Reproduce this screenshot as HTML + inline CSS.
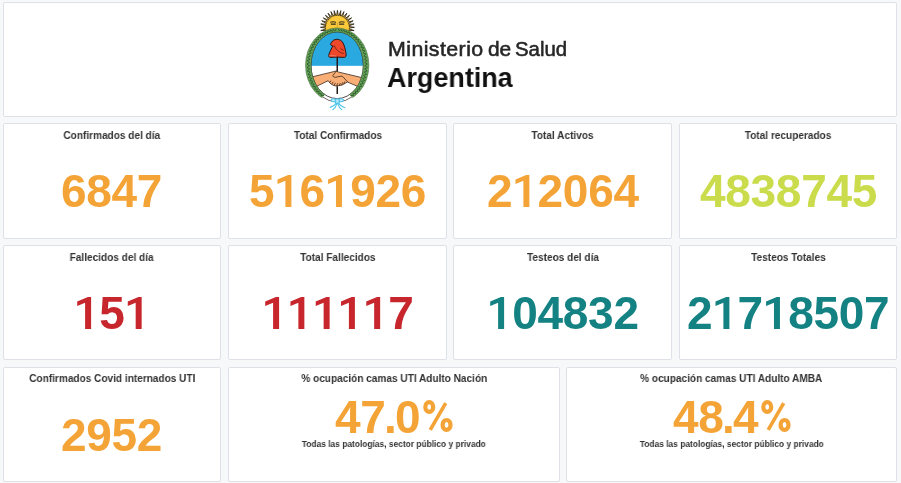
<!DOCTYPE html>
<html lang="es">
<head>
<meta charset="utf-8">
<title>Ministerio de Salud Argentina</title>
<style>
html,body{margin:0;padding:0;}
body{width:901px;height:483px;background:#f7f8fa;position:relative;overflow:hidden;font-family:"Liberation Sans",sans-serif;-webkit-font-smoothing:antialiased;}
.p{position:absolute;box-sizing:border-box;background:#fff;border:1px solid #dee1e7;border-radius:2px;overflow:hidden;}
.t{position:absolute;left:0;right:0;top:4px;text-align:center;font-weight:bold;font-size:11.2px;line-height:14px;color:#333;white-space:nowrap;}
.t span{will-change:transform;display:inline-block;transform-origin:50% 50%;transform:scaleX(0.9);}
.v{position:absolute;left:0;right:0;top:44px;text-align:center;font-weight:bold;font-size:46px;line-height:46px;white-space:nowrap;font-kerning:none;letter-spacing:-0.3px;}
.v span{will-change:transform;display:inline-block;transform-origin:50% 50%;}
.v.hi{top:26px;}
.v u{display:inline-block;width:25.28px;height:32.1px;background:currentColor;text-decoration:none;letter-spacing:0;clip-path:polygon(17.1px 0,13.9px 0,3.2px 4.5px,3.2px 9px,11.1px 5.9px,11.1px 100%,17.1px 100%);}
.v b{font-weight:bold;margin:0 -1.5px;}

.v .pc{display:inline-block;vertical-align:0.7px;margin-left:2.4px;margin-right:0;fill:none;stroke:currentColor;stroke-width:4.2px;overflow:visible;}
.s{position:absolute;left:0;right:0;top:70px;text-align:center;font-weight:bold;font-size:9.4px;line-height:12px;color:#333;white-space:nowrap;}
.s span{will-change:transform;display:inline-block;transform-origin:50% 50%;transform:scaleX(0.895);}
.r3 .t{top:3px;}
.r3 .v{top:43.5px;}
.r3 .v.hi{top:25.6px;}
.o{color:#f4a336;}
.g{color:#cadb4b;}
.r{color:#c8262d;}
.b{color:#148283;}
.m1{will-change:transform;position:absolute;top:33.9px;font-size:20.4px;line-height:24px;color:#262626;white-space:nowrap;transform-origin:0 50%;-webkit-text-stroke:0.55px #262626;}
#m2{will-change:transform;position:absolute;left:383.4px;top:59.45px;font-size:28px;line-height:32px;font-weight:bold;color:#111;white-space:nowrap;transform-origin:0 50%;transform:scaleX(0.962);}
</style>
</head>
<body>
<div class="p" id="hd" style="left:3px;top:2px;width:894px;height:115px;">
<svg id="logo" style="position:absolute;left:292px;top:1px" width="84" height="112" viewBox="296 4 84 112"><circle cx="337.45" cy="27.3" r="12.6" fill="#f7c63a"/><path d="M326.87 30.30L320.78 30.62L326.52 28.57ZM326.49 28.18L320.45 27.30L326.49 26.42ZM326.52 26.03L320.78 23.98L326.87 24.30ZM326.98 23.92L321.74 20.79L327.66 22.29ZM327.84 21.94L323.32 17.86L328.82 20.47ZM329.07 20.17L325.43 15.28L330.32 18.92ZM330.62 18.67L328.01 13.17L332.09 17.69ZM332.44 17.51L330.94 11.59L334.07 16.83ZM334.45 16.72L334.13 10.63L336.18 16.37ZM336.57 16.34L337.45 10.30L338.33 16.34ZM338.72 16.37L340.77 10.63L340.45 16.72ZM340.83 16.83L343.96 11.59L342.46 17.51ZM342.81 17.69L346.89 13.17L344.28 18.67ZM344.58 18.92L349.47 15.28L345.83 20.17ZM346.08 20.47L351.58 17.86L347.06 21.94ZM347.24 22.29L353.16 20.79L347.92 23.92ZM348.03 24.30L354.12 23.98L348.38 26.03ZM348.41 26.42L354.45 27.30L348.41 28.18ZM348.38 28.57L354.12 30.62L348.03 30.30Z" fill="#f1bd33" stroke="#2a2418" stroke-width="0.85" stroke-linejoin="miter"/><circle cx="337.45" cy="27.3" r="11.5" fill="#fbc93a"/><path d="M330.6 22.1Q333 21.2 335.7 22.2M339.2 22.2Q341.8 21.2 344.3 22.1" fill="none" stroke="#2f2a1c" stroke-width="1.0" stroke-linecap="round"/><path d="M331.2 24.1H335.4M339.5 24.1H343.7" fill="none" stroke="#2f2a1c" stroke-width="1.1" stroke-linecap="round"/><path d="M337.4 23.5V26.3M335.6 28.1Q337.4 28.9 339.2 28.1" fill="none" stroke="#9a7a22" stroke-width="0.5" stroke-linecap="round"/><clipPath id="sh"><ellipse cx="337.2" cy="65.2" rx="26.2" ry="33.4"/></clipPath><g clip-path="url(#sh)"><rect x="300" y="25" width="80" height="40.9" fill="#2aa9e0"/><rect x="300" y="65.9" width="80" height="40" fill="#ffffff"/><path d="M311.5 77L336.2 71.0L338.3 72.0L363.5 78L359 87L347.4 82Q342 86.3 336.2 86Q331 85.5 328.2 80.7L316 86.6Z" fill="#f8ae74" stroke="#33201a" stroke-width="0.75" stroke-linejoin="round"/></g><path d="M336.2 71.2L332.7 75.8Q333.4 77.4 335.2 77.3L339 76.6Q341.4 75.6 343 76.8L347.4 81.8M329.6 82.6L330.8 81M331.8 84L333 82.2M334.2 85.2L335.2 83.2M336.8 85.6L337.6 83.6M339.4 85.4L340.2 83.4M341.8 84.6L342.4 82.8M344 83.6L344.4 82" fill="none" stroke="#33201a" stroke-width="0.75" stroke-linecap="round" stroke-linejoin="round"/><path d="M337.25 57V71.4M337.25 86.2V94.1" stroke="#241a17" stroke-width="1.5" fill="none"/><path d="M336.8 39.3C334.5 39.3 332.6 40.6 331.6 42.2C330.6 43.4 330.3 44.6 331 45.2C331.6 45.8 332.4 45.8 332.7 46.1C332 47.4 331.4 48.6 330.8 50C329.8 52 328.9 54 328.7 55.6C328.6 56.6 329 57.2 330 57.3C332.5 57.6 335 57.2 337.3 57C339.8 57.2 342.4 57.6 344.6 57.3C345.6 57.1 346.1 56.4 346.1 55.2C346.1 53.4 345.8 51.8 345.4 50.2C345 48.4 344.6 46.6 344 45.2C343.4 43.6 342.7 42.3 341.8 41.3C340.6 40 338.8 39.3 336.8 39.3Z" fill="#ee482b" stroke="#2a1512" stroke-width="1" stroke-linejoin="round"/><path d="M334.5 46.3Q336 49.6 338.4 51.3Q340.6 52.9 343.5 53.6M340.7 48.5Q341.8 49.8 343.5 50.2M332.7 46.1Q333.6 46.2 334.5 46.3" fill="none" stroke="#5a1a14" stroke-width="0.7" stroke-linecap="round"/><path d="M329.6 55.7Q333 55.2 336 56" fill="none" stroke="#f59a86" stroke-width="0.6" stroke-linecap="round"/><ellipse cx="337.2" cy="65.2" rx="26.2" ry="33.4" fill="none" stroke="#2a1a18" stroke-width="0.8"/><path d="M321.25 96.24A30.10 36.60 0 0 0 353.15 96.24" fill="none" stroke="#3a2a22" stroke-width="0.7"/><clipPath id="wr"><path d="M290 0H390V100.52L355.59 100.52L348.64 94.07L337.2 65.2L325.76 94.07L318.81 100.52L290 100.52Z"/></clipPath><g clip-path="url(#wr)"><path d="M305.50 65.2A31.7 37.2 0 1 1 368.90 65.2A31.7 37.2 0 1 1 305.50 65.2ZM311.00 65.2A26.2 33.4 0 1 0 363.40 65.2A26.2 33.4 0 1 0 311.00 65.2Z" fill="#66a558" fill-rule="evenodd" stroke="#3c5f36" stroke-width="0.5"/><path d="M323.47 97.46L323.50 95.07L320.99 95.77L321.30 93.34L318.66 93.81L319.24 91.35L316.49 91.60L317.34 89.13L314.51 89.15L315.62 86.70L312.73 86.48L314.09 84.08L311.16 83.63L312.76 81.29L309.83 80.62L311.65 78.36L308.74 77.47L310.77 75.31L307.90 74.21L310.12 72.17L307.32 70.86L309.72 68.97L307.01 67.47L309.55 65.74L306.96 64.06L309.64 62.50L307.19 60.66L309.96 59.29L307.68 57.30L310.53 56.13L308.43 54.01L311.33 53.04L309.44 50.82L312.37 50.07L310.69 47.76L313.62 47.23L312.18 44.85L315.09 44.55L313.89 42.12L316.75 42.06L315.81 39.60L318.59 39.76L317.92 37.30L320.60 37.70L320.20 35.25L322.75 35.88L322.63 33.47L325.04 34.32L325.19 31.97L327.43 33.03L327.85 30.76L329.90 32.03L330.60 29.86L332.45 31.32L333.41 29.28L335.03 30.92L336.25 29.01M350.93 97.46L350.90 95.07L353.41 95.77L353.10 93.34L355.74 93.81L355.16 91.35L357.91 91.60L357.06 89.13L359.89 89.15L358.78 86.70L361.67 86.48L360.31 84.08L363.24 83.63L361.64 81.29L364.57 80.62L362.75 78.36L365.66 77.47L363.63 75.31L366.50 74.21L364.28 72.17L367.08 70.86L364.68 68.97L367.39 67.47L364.85 65.74L367.44 64.06L364.76 62.50L367.21 60.66L364.44 59.29L366.72 57.30L363.87 56.13L365.97 54.01L363.07 53.04L364.96 50.82L362.03 50.07L363.71 47.76L360.78 47.23L362.22 44.85L359.31 44.55L360.51 42.12L357.65 42.06L358.59 39.60L355.81 39.76L356.48 37.30L353.80 37.70L354.20 35.25L351.65 35.88L351.77 33.47L349.36 34.32L349.21 31.97L346.97 33.03L346.55 30.76L344.50 32.03L343.80 29.86L341.95 31.32L340.99 29.28L339.37 30.92L338.15 29.01" fill="none" stroke="#244a2a" stroke-width="0.85" stroke-linejoin="round" opacity="0.85"/></g><g fill="none" stroke="#4fc4ea" stroke-width="1.1" stroke-linecap="round" stroke-linejoin="round"><path d="M337.3 100.8Q333.6 97.4 331.2 99.6Q330.6 102.6 337.3 101.4Q344 102.6 343.4 99.6Q341 97.4 337.3 100.8Z" fill="#c9eefb"/><path d="M335.4 99.2Q337.3 98.2 339.2 99.2V103Q337.3 103.8 335.4 103Z" fill="#aee4f8"/><path d="M336 103.4Q334 106.4 330.2 107.4M336.8 103.8Q335.6 107.8 332.8 109.6M337.8 103.8Q339 107.8 341.8 109.6M338.6 103.4Q340.6 106.4 344.8 107.8"/></g></svg>
<div class="m1" style="left:383.5px;letter-spacing:.4px;transform:scaleX(1.048)">Ministerio</div><div class="m1" style="left:483.8px;transform:scaleX(1.024)">de</div><div class="m1" style="left:511.1px;">Salud</div>
<div id="m2">Argentina</div>
</div>

<div class="p" style="left:3px;top:123px;width:218px;height:116px;"><div class="t"><span>Confirmados del día</span></div><div class="v o"><span>6847</span></div></div>
<div class="p" style="left:228px;top:123px;width:219px;height:116px;"><div class="t"><span>Total Confirmados</span></div><div class="v o"><span>5<u></u>6<u></u>926</span></div></div>
<div class="p" style="left:453px;top:123px;width:219px;height:116px;"><div class="t"><span>Total Activos</span></div><div class="v o"><span>2<u></u>2064</span></div></div>
<div class="p" style="left:679px;top:123px;width:218px;height:116px;"><div class="t"><span>Total recuperados</span></div><div class="v g"><span>4838745</span></div></div>

<div class="p" style="left:3px;top:245px;width:218px;height:115px;"><div class="t"><span>Fallecidos del día</span></div><div class="v r"><span><u></u>5<u></u></span></div></div>
<div class="p" style="left:228px;top:245px;width:219px;height:115px;"><div class="t"><span>Total Fallecidos</span></div><div class="v r"><span><u></u><u></u><u></u><u></u><u></u>7</span></div></div>
<div class="p" style="left:453px;top:245px;width:219px;height:115px;"><div class="t"><span>Testeos del día</span></div><div class="v b"><span><u></u>04832</span></div></div>
<div class="p" style="left:679px;top:245px;width:218px;height:115px;"><div class="t"><span>Testeos Totales</span></div><div class="v b"><span>2<u></u>7<u></u>8507</span></div></div>

<div class="p r3" style="left:3px;top:367px;width:218px;height:115px;"><div class="t"><span>Confirmados Covid internados UTI</span></div><div class="v o"><span>2952</span></div></div>
<div class="p r3" style="left:228px;top:367px;width:332px;height:115px;"><div class="t"><span>% ocupación camas UTI Adulto Nación</span></div><div class="v hi o"><span>47<b>.</b>0<svg class="pc" viewBox="0 0 30 32" width="30" height="32"><ellipse cx="6.25" cy="7" rx="3.95" ry="4.9"/><ellipse cx="23.55" cy="24.9" rx="3.95" ry="4.9"/><path d="M22.7 3.2L7.2 29.9" stroke-width="3.6"/></svg></span></div><div class="s"><span>Todas las patologías, sector público y privado</span></div></div>
<div class="p r3" style="left:566px;top:367px;width:331px;height:115px;"><div class="t"><span>% ocupación camas UTI Adulto AMBA</span></div><div class="v hi o"><span>48<b>.</b>4<svg class="pc" viewBox="0 0 30 32" width="30" height="32"><ellipse cx="6.25" cy="7" rx="3.95" ry="4.9"/><ellipse cx="23.55" cy="24.9" rx="3.95" ry="4.9"/><path d="M22.7 3.2L7.2 29.9" stroke-width="3.6"/></svg></span></div><div class="s"><span>Todas las patologías, sector público y privado</span></div></div>
</body>
</html>
